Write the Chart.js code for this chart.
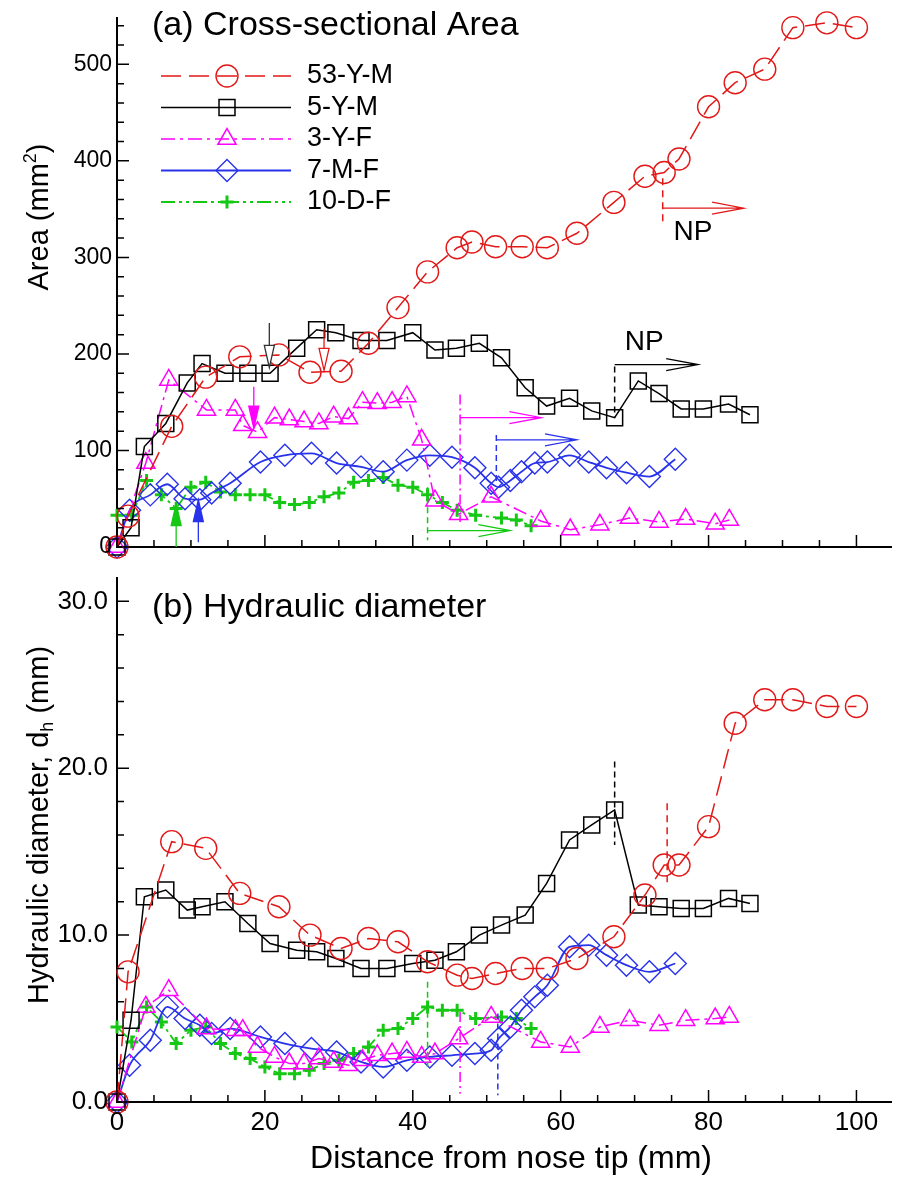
<!DOCTYPE html>
<html>
<head>
<meta charset="utf-8">
<title>Cross-sectional area and hydraulic diameter</title>
<script src="https://cdn.jsdelivr.net/npm/chart.js@4.4.1/dist/chart.umd.min.js"></script>
<style>
  body { margin: 0; background: #fff; }
  #wrap { position: relative; width: 904px; height: 1182px; }
  #wrap canvas { position: absolute; left: 0; }
</style>
</head>
<body>
<div id="wrap">
  <canvas id="areaChart" width="904" height="560" style="top:0;width:904px;height:560px"></canvas>
  <canvas id="dhChart" width="904" height="622" style="top:560px;width:904px;height:622px"></canvas>
</div>
<script>
// ---- data (x in mm from nose tip) ----
const seriesNames = ['53-Y-M', '5-Y-M', '3-Y-F', '7-M-F', '10-D-F'];

const x53 = [0, 1.5, 7.4, 12, 16.6, 21.9, 26.1, 30.3, 34, 38, 42, 46, 48, 51.2, 54.8, 58.2, 62.2, 67.2, 71.4, 74, 76, 80, 83.6, 87.6, 91.4, 96, 100];
const area53 = [0, 32, 125, 176, 197, 199, 181, 182, 211, 248, 285, 310, 316, 311, 311, 310, 325, 357, 384, 388, 402, 456, 481, 495, 538, 543, 538];
const dh53 = [0, 7.8, 15.6, 15.2, 12.5, 11.7, 10.0, 9.2, 9.8, 9.6, 8.4, 7.6, 7.4, 7.7, 8.0, 8.0, 8.6, 9.9, 12.4, 14.2, 14.2, 16.5, 22.7, 24.1, 24.1, 23.7, 23.7];

const x5 = [0, 1.9, 3.7, 6.6, 9.5, 11.5, 14.6, 17.7, 20.7, 24.3, 27, 29.6, 33, 36.5, 40, 43, 45.9, 49, 52, 55.2, 58.1, 61.2, 64.2, 67.3, 70.5, 73.3, 76.3, 79.3, 82.7, 85.6];
const area5 = [0, 20, 104, 128, 170, 190, 180, 180, 180, 206, 225, 222, 214, 214, 222, 204, 206, 211, 196, 165, 146, 154, 141, 134, 172, 159, 143, 143, 148, 137];
const dh5 = [0, 4.9, 12.3, 12.7, 11.5, 11.7, 12.0, 10.7, 9.5, 9.1, 9.0, 8.6, 8.0, 8.0, 8.3, 8.5, 9.0, 10.0, 10.6, 11.2, 13.1, 15.7, 16.6, 17.5, 11.8, 11.7, 11.6, 11.6, 12.2, 11.9];

const x3 = [0, 3.9, 7, 12.1, 16, 17, 19, 21.3, 23.3, 25.3, 27.3, 29.3, 31.3, 33.2, 35.2, 37.2, 39.2, 41.2, 43, 46.2, 50.6, 57.3, 61.3, 65.3, 69.3, 73.3, 76.9, 80.9, 82.8];
const area3 = [0, 87, 173, 142, 142, 126, 119, 134, 132, 130, 128, 135, 133, 150, 149, 150, 156, 111, 48, 34, 52, 27, 18, 23, 30, 26, 29, 24, 28];
const dh3 = [0, 5.7, 6.7, 4.4, 4.3, 4.3, 3.3, 2.7, 2.3, 2.3, 2.6, 2.4, 2.2, 2.5, 2.8, 2.9, 3.0, 2.7, 2.9, 3.8, 5.1, 3.6, 3.3, 4.5, 4.9, 4.6, 4.9, 5.0, 5.1];

const x7 = [0, 1.7, 4.5, 6.8, 9.2, 11.2, 12.8, 15.3, 19.4, 22.7, 26.3, 29.7, 33, 36, 39.2, 42.3, 45.3, 48.4, 50.6, 51.6, 53.2, 54.7, 56.5, 58.2, 61.2, 63.8, 66.2, 68.9, 72, 75.5];
const area7 = [0, 38, 54, 65, 50, 49, 56, 66, 88, 95, 97, 87, 83, 78, 90, 95, 93, 82, 66, 62, 69, 78, 87, 88, 95, 88, 82, 77, 73, 91];
const dh7 = [0, 2.2, 3.7, 5.7, 5.0, 4.6, 4.1, 4.4, 3.9, 3.5, 3.2, 3.0, 2.4, 2.1, 2.5, 2.7, 2.8, 2.9, 3.1, 3.8, 4.5, 5.5, 6.3, 7.0, 9.3, 9.4, 8.8, 8.2, 7.8, 8.3];

const x10 = [0, 2, 4, 6, 8, 10, 12, 14, 16, 18, 20, 22, 24, 26, 28, 30, 32, 34, 36, 38, 40, 42, 44, 46, 48.5, 52, 54, 56];
const area10 = [33, 33, 69, 54, 40, 62, 67, 57, 54, 54, 54, 46, 44, 46, 52, 56, 67, 69, 72, 64, 62, 54, 46, 38, 33, 30, 28, 22];
const dh10 = [4.5, 3.6, 5.7, 4.8, 3.5, 4.3, 4.5, 3.5, 2.9, 2.6, 2.1, 1.7, 1.7, 1.9, 2.3, 2.5, 2.9, 3.3, 4.3, 4.4, 5.0, 5.7, 5.5, 5.5, 5.0, 5.1, 5.0, 4.4];

const xTicks = [0, 20, 40, 60, 80, 100];
const areaTicks = [0, 100, 200, 300, 400, 500];
const dhTicks = [0, 10, 20, 30];

// ---- look ----
const FONT = '"Liberation Sans", Arial, Helvetica, sans-serif';
const RED = 'rgb(226,24,24)';
const BLACK = '#000000';
const MAGENTA = 'rgb(255,0,255)';
const BLUE = 'rgb(40,50,235)';
const GREEN = 'rgb(20,200,20)';

const styles = [
  { color: RED, dash: [20, 8], shape: 'circle', radius: 11, width: 1.5, pw: 1.4, smooth: false },
  { color: BLACK, dash: [], shape: 'rect', radius: 11.3, width: 1.5, pw: 1.5, smooth: false },
  { color: MAGENTA, dash: [14, 5, 3, 5], shape: 'triangle', radius: 10.5, width: 1.5, pw: 1.5, smooth: false },
  { color: BLUE, dash: [], shape: 'rectRot', radius: 11, width: 1.8, pw: 1.4, smooth: true },
  { color: GREEN, dash: [14, 4, 3, 4, 3, 4], shape: 'cross', radius: 6.5, width: 1.8, pw: 3, smooth: false }
];

// annotations of panel (a): arrows (mm, mm^2)
const areaArrows = [
  { x: 20.6, from: 232, to: 186, color: '#333', solid: false },
  { x: 28, from: 226, to: 183, color: RED, solid: false },
  { x: 18.5, from: 166, to: 123, color: MAGENTA, solid: true },
  { x: 8, from: 0, to: 45, color: GREEN, solid: true },
  { x: 11, from: 5, to: 49, color: BLUE, solid: true }
];
// nasopharynx (NP) markers: drop line and arrow along +x
const areaNP = [
  { x: 73.8, top: 382, bottom: 337, arrowY: 351, arrowTo: 84.8, color: RED, dash: [7, 5] },
  { x: 67.3, top: 187, bottom: 134, arrowY: 189, arrowTo: 78.6, color: BLACK, dash: [6, 4] },
  { x: 46.4, top: 158, bottom: 26, arrowY: 134, arrowTo: 57.4, color: MAGENTA, dash: [10, 4, 2, 4] },
  { x: 51.3, top: 116, bottom: 66, arrowY: 111, arrowTo: 62.2, color: BLUE, dash: [6, 4] },
  { x: 42, top: 62, bottom: 7, arrowY: 17, arrowTo: 53.2, color: GREEN, dash: [6, 4] }
];
const areaText = [
  { text: 'NP', x: 77.9, y: 326 },
  { text: 'NP', x: 71.3, y: 212 }
];
const dhNP = [
  { x: 67.3, top: 20.4, bottom: 15.4, color: BLACK, dash: [6, 4] },
  { x: 74.4, top: 17.9, bottom: 12.9, color: RED, dash: [7, 5] },
  { x: 42, top: 7.2, bottom: 2.1, color: GREEN, dash: [6, 4] },
  { x: 46.4, top: 5.4, bottom: 0.5, color: MAGENTA, dash: [10, 4, 2, 4] },
  { x: 51.5, top: 5.3, bottom: 0.4, color: BLUE, dash: [6, 4] }
];

function buildSets(xs, ys) {
  return seriesNames.map((name, i) => {
    const s = styles[i];
    return {
      label: name,
      data: xs[i].map((x, k) => ({ x: x, y: ys[i][k] })),
      showLine: true,
      borderColor: s.color,
      borderWidth: s.width,
      borderDash: s.dash,
      pointStyle: s.shape,
      pointRadius: s.radius,
      pointBorderWidth: s.pw,
      pointBorderColor: s.color,
      pointBackgroundColor: 'rgba(0,0,0,0)',
      cubicInterpolationMode: s.smooth ? 'monotone' : 'default',
      tension: 0,
      clip: false
    };
  });
}

function vArrow(ctx, px, y0, y1, color, solid) {
  const dir = Math.sign(y1 - y0), head = 22, half = 5;
  ctx.setLineDash([]);
  ctx.strokeStyle = color;
  ctx.lineWidth = 1.3;
  ctx.beginPath();
  ctx.moveTo(px, y0);
  ctx.lineTo(px, y1 - dir * head);
  ctx.stroke();
  ctx.beginPath();
  ctx.moveTo(px - half, y1 - dir * head);
  ctx.lineTo(px + half, y1 - dir * head);
  ctx.lineTo(px, y1);
  ctx.closePath();
  ctx.fillStyle = solid ? color : '#fff';
  ctx.fill();
  ctx.stroke();
}

function hArrow(ctx, x0, x1, py, color) {
  ctx.setLineDash([]);
  ctx.strokeStyle = color;
  ctx.lineWidth = 1.2;
  ctx.beginPath();
  ctx.moveTo(x0, py);
  ctx.lineTo(x1, py);
  ctx.moveTo(x1 - 32, py - 6);
  ctx.lineTo(x1, py);
  ctx.lineTo(x1 - 32, py + 6);
  ctx.stroke();
}

// rotated axis title made of pieces (normal / superscript / subscript)
function rotatedTitle(ctx, parts, cx, cy) {
  ctx.save();
  ctx.translate(cx, cy);
  ctx.rotate(-Math.PI / 2);
  ctx.textAlign = 'left';
  ctx.textBaseline = 'middle';
  ctx.fillStyle = '#000';
  const sizes = parts.map(p => p.small ? 18 : 29);
  const widths = parts.map((p, i) => {
    ctx.font = sizes[i] + 'px ' + FONT;
    return ctx.measureText(p.text).width;
  });
  let x = -widths.reduce((s, w) => s + w, 0) / 2;
  parts.forEach((p, i) => {
    ctx.font = sizes[i] + 'px ' + FONT;
    ctx.fillText(p.text, x, p.lift ? p.lift : 0);
    x += widths[i];
  });
  ctx.restore();
}

// tick marks, labels, titles, annotations and legend for one panel
function makeDecor(cfg) {
  return {
    id: 'decor',
    afterDatasetsDraw(chart) {
      const ctx = chart.ctx, a = chart.chartArea;
      const xs = chart.scales.x, ys = chart.scales.y;
      const X = v => xs.getPixelForValue(v);
      const Y = v => ys.getPixelForValue(v);
      ctx.save();

      // tick marks point into the plot
      ctx.setLineDash([]);
      ctx.strokeStyle = '#000';
      ctx.lineWidth = 1.5;
      ctx.beginPath();
      for (let v = 0; v <= xs.max; v += 5) {
        const len = v % 20 === 0 ? 12 : 7;
        ctx.moveTo(X(v), a.bottom);
        ctx.lineTo(X(v), a.bottom - len);
      }
      for (let i = 0; i * cfg.yMinor <= ys.max; i++) {
        const v = i * cfg.yMinor;
        const len = v % cfg.yMajor === 0 ? 12 : 7;
        ctx.moveTo(a.left, Y(v));
        ctx.lineTo(a.left + len, Y(v));
      }
      ctx.stroke();

      // tick labels
      ctx.fillStyle = '#000';
      ctx.font = cfg.yTickSize + 'px ' + FONT;
      ctx.textAlign = 'right';
      ctx.textBaseline = 'middle';
      cfg.yTicks.forEach(v => ctx.fillText(cfg.yFormat(v), a.left - cfg.yTickGap, Y(v)));
      if (cfg.xLabels) {
        ctx.font = '26px ' + FONT;
        ctx.textAlign = 'center';
        xTicks.forEach(v => ctx.fillText(String(v), X(v), a.bottom + 21));
        ctx.font = '32px ' + FONT;
        ctx.fillText('Distance from nose tip (mm)', 511, a.bottom + 57);
      }

      // panel title
      ctx.textAlign = 'left';
      ctx.textBaseline = 'alphabetic';
      ctx.font = '34px ' + FONT;
      ctx.fillText(cfg.title, 152, cfg.titleY);

      // NP drop lines and arrows
      cfg.np.forEach(m => {
        ctx.setLineDash(m.dash);
        ctx.strokeStyle = m.color;
        ctx.lineWidth = 1.5;
        ctx.beginPath();
        ctx.moveTo(X(m.x), Y(m.top));
        ctx.lineTo(X(m.x), Y(m.bottom));
        ctx.stroke();
        if (m.arrowTo) hArrow(ctx, X(m.x), X(m.arrowTo), Y(m.arrowY), m.color);
      });
      cfg.arrows.forEach(r => vArrow(ctx, X(r.x), Y(r.from), Y(r.to), r.color, r.solid));

      ctx.fillStyle = '#000';
      ctx.font = '28px ' + FONT;
      ctx.textAlign = 'center';
      ctx.textBaseline = 'middle';
      cfg.texts.forEach(t => ctx.fillText(t.text, X(t.x), Y(t.y)));

      // legend
      if (cfg.legend) {
        seriesNames.forEach((name, i) => {
          const s = styles[i], y = 76 + i * 31.5;
          ctx.setLineDash(s.dash);
          ctx.strokeStyle = s.color;
          ctx.lineWidth = s.width;
          ctx.beginPath();
          ctx.moveTo(161, y);
          ctx.lineTo(291, y);
          ctx.stroke();
          ctx.setLineDash([]);
          ctx.lineWidth = s.pw;
          ctx.fillStyle = 'rgba(0,0,0,0)';
          Chart.helpers.drawPoint(ctx, { pointStyle: s.shape, radius: s.radius, rotation: 0, borderWidth: s.pw }, 227, y);
          ctx.fillStyle = '#000';
          ctx.font = '27px ' + FONT;
          ctx.textAlign = 'left';
          ctx.textBaseline = 'middle';
          ctx.fillText(name, 307, y);
        });
      }

      rotatedTitle(ctx, cfg.yTitle, 40, cfg.yTitleY);
      ctx.restore();
    }
  };
}

function scaleSet(yMax, xHeight) {
  return {
    x: {
      type: 'linear', min: 0, max: 104.7,
      grid: { display: false, drawTicks: false },
      border: { display: true, color: '#000', width: 2 },
      ticks: { display: false },
      afterFit: s => { s.height = xHeight; s.paddingLeft = 0; s.paddingRight = 0; }
    },
    y: {
      type: 'linear', min: 0, max: yMax,
      grid: { display: false, drawTicks: false },
      border: { display: true, color: '#000', width: 2 },
      ticks: { display: false },
      afterFit: s => { s.width = 117; s.paddingTop = 0; s.paddingBottom = 0; }
    }
  };
}

function baseOptions(yMax, xHeight) {
  return {
    responsive: false,
    animation: false,
    events: [],
    devicePixelRatio: 1,
    layout: { padding: { top: 18, left: 0, right: 0, bottom: 0 } },
    scales: scaleSet(yMax, xHeight),
    plugins: { legend: { display: false }, tooltip: { enabled: false } }
  };
}

Chart.defaults.font.family = FONT;

new Chart('areaChart', {
  type: 'scatter',
  data: { datasets: buildSets([x53, x5, x3, x7, x10], [area53, area5, area3, area7, area10]) },
  options: baseOptions(548, 13),
  plugins: [makeDecor({
    yMinor: 20, yMajor: 100, yTicks: areaTicks, yFormat: v => String(v), yTickSize: 23, yTickGap: 5,
    xLabels: false, title: '(a) Cross-sectional Area', titleY: 35,
    np: areaNP, arrows: areaArrows, texts: areaText, legend: true,
    yTitle: [{ text: 'Area (mm' }, { text: '2', small: true, lift: -9 }, { text: ')' }], yTitleY: 217
  })]
});

new Chart('dhChart', {
  type: 'scatter',
  data: { datasets: buildSets([x53, x5, x3, x7, x10], [dh53, dh5, dh3, dh7, dh10]) },
  options: baseOptions(31.4, 80),
  plugins: [makeDecor({
    yMinor: 2, yMajor: 10, yTicks: dhTicks, yFormat: v => v.toFixed(1), yTickSize: 26, yTickGap: 9,
    xLabels: true, title: '(b) Hydraulic diameter', titleY: 57,
    np: dhNP, arrows: [], texts: [], legend: false,
    yTitle: [{ text: 'Hydraulic diameter, d' }, { text: 'h', small: true, lift: 8 }, { text: ' (mm)' }], yTitleY: 265
  })]
});
</script>
</body>
</html>
